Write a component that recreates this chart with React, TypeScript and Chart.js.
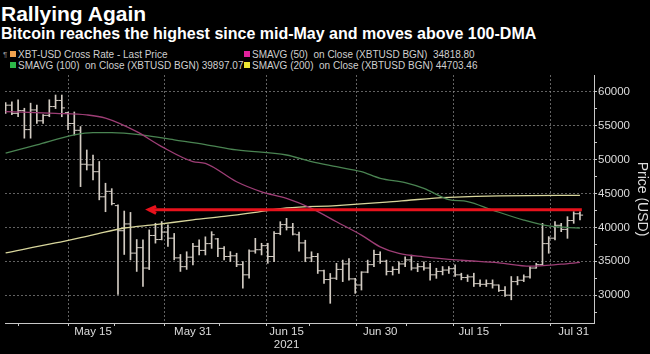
import React, { useEffect, useRef } from 'react';
import { Chart, registerables } from 'chart.js';

Chart.register(...registerables);

// Daily OHLC, 1 May 2021 (day 0) to 1 Aug 2021 (day 92)
const opens = [
  57800, 58000, 56800, 57200, 54400, 57300, 55700, 56500, 57800, 58700,
  56900, 55300, 54300, 49300, 49200, 48200, 44500, 45300, 43200, 39500,
  40500, 36200, 37000, 34000, 38800, 38200, 39300, 38400, 35500, 34200,
  35600, 37200, 36600, 37600, 38300, 36900, 35700, 35800, 34500, 33000,
  36500, 36700, 37300, 35700, 39100, 40400, 40000, 38900, 37700, 35500,
  35700, 33600, 32300, 32500, 33800, 34600, 32400, 31500, 33400, 34500,
  36000, 35000, 33500, 33800, 34600, 35200, 34000, 34200, 34000, 33000,
  33500, 33700, 33900, 33000, 32600, 32700, 31700, 31600, 31700, 31500,
  30700, 30000, 32000, 32200, 32700, 34000, 34500, 37600, 38400, 40300,
  39700, 41000, 42000,
];
const highs = [
  58400, 58500, 58800, 57550, 58300, 58000, 56600, 58800, 59500, 59500,
  57000, 57000, 54850, 51400, 50650, 49700, 46500, 45700, 43300, 42400,
  42200, 38200, 38150, 39630, 40600, 40850, 40360, 39100, 36000, 36400,
  37650, 38140, 38600, 39360, 38380, 37160, 36420, 36180, 34950, 36670,
  38380, 37650, 37650, 39360, 40830, 41320, 40590, 39300, 38100, 36400,
  36150, 33700, 33200, 34700, 35170, 35400, 32480, 33460, 35170, 36640,
  36400, 35170, 34200, 34930, 35660, 35900, 34680, 34930, 34680, 33970,
  34220, 34200, 34460, 33240, 32990, 33240, 32260, 32260, 32260, 31520,
  31280, 32750, 32750, 33000, 34220, 34710, 40590, 38630, 40830, 40590,
  41570, 42300, 42300,
];
const lows = [
  56800, 56600, 56300, 53140, 53140, 55300, 55300, 56300, 57500, 56300,
  54400, 53600, 46000, 48450, 46980, 44050, 42300, 43300, 30100, 36000,
  35200, 33500, 31300, 33770, 37670, 38150, 37200, 35200, 33500, 33800,
  34460, 35930, 35930, 36900, 35690, 35200, 34950, 34200, 31030, 32500,
  36180, 35930, 34700, 34950, 38900, 39600, 38870, 36500, 34930, 34930,
  33200, 31750, 28800, 32300, 32000, 32230, 30270, 30760, 33300, 34200,
  34680, 32970, 32970, 33200, 34200, 33700, 33460, 33700, 32230, 32480,
  32990, 33200, 32750, 32260, 32010, 31280, 31280, 31280, 31040, 30540,
  29800, 29320, 31520, 32000, 32500, 33970, 34460, 36180, 38140, 39360,
  38380, 40590, 41080,
];
const closes = [
  58000, 56800, 57200, 54400, 57300, 55700, 56500, 57800, 58700, 57600,
  55300, 54300, 49300, 49200, 48200, 44500, 45300, 43500, 39500, 40500,
  36200, 37000, 34000, 38800, 38200, 39300, 38400, 35500, 34200, 35600,
  37200, 36600, 37600, 38900, 36900, 35700, 35800, 34500, 33000, 36500,
  36700, 37300, 35700, 39100, 40400, 40000, 39000, 37700, 35500, 35700,
  33600, 32300, 32500, 33800, 34600, 32400, 31500, 33400, 34500, 36000,
  35000, 33500, 33800, 34600, 35200, 34000, 34200, 34000, 33000, 33500,
  33700, 33900, 33000, 32600, 32700, 31700, 31600, 31700, 31500, 30700,
  30000, 32000, 32200, 32700, 34000, 34500, 37600, 38400, 40300, 39700,
  41000, 42000, 41800,
];

// Moving averages, read at sample days
const sma50Days = [0, 8, 13, 16, 21, 25, 30, 32, 37, 41, 45, 49, 53, 57, 60, 63, 67, 73, 79, 84, 89, 92];
const sma50Vals = [57060, 56800, 56570, 56100, 54100, 51900, 49700, 49430, 46720, 45240, 44270, 42800, 40820, 38850, 37130, 36150, 35650, 35150, 34770, 34280, 34570, 34820];
const sma100Days = [0, 5, 11, 14, 17, 22, 27, 32, 37, 45, 49, 53, 57, 60, 64, 67, 71, 74, 78, 83, 87, 92];
const sma100Vals = [50935, 52160, 53630, 53970, 53970, 53600, 52900, 52200, 51400, 50660, 49670, 48930, 48200, 47220, 46600, 45740, 44100, 43800, 42540, 41070, 40200, 39900];
const sma200Days = [0, 8, 14, 19, 24, 30, 35, 40, 45, 53, 61, 66, 71, 79, 92];
const sma200Vals = [36250, 37700, 38900, 39900, 40400, 41100, 41600, 42200, 42850, 43200, 43700, 44100, 44400, 44650, 44700];

// Red arrow (level of the mid-May high)
const arrowDays = [22.9, 92.3];
const arrowLevel = 42600;
const arrowHeadDays = [24.1, 22.9, 24.1];
const arrowHeadVals = [43100, 42600, 42050];

// Axis ticks
const xTickDays = [6, 14, 21, 30, 38.5, 45, 52.5, 60, 68.5, 75, 83.5, 91];
const xTickLabels: Record<string, string | string[]> = {
  '14': 'May 15', '30': 'May 31', '45': ['Jun 15', '2021'], '60': 'Jun 30', '75': 'Jul 15', '91': 'Jul 31',
};
const yTickValues = [27500, 30000, 32500, 35000, 37500, 40000, 42500, 45000, 47500, 50000, 52500, 55000, 57500, 60000];

const BAR = '#d2cbc2';
const GRID = 'rgba(140,140,140,0.7)';
const AXIS = '#c8c8c8';
const TXT = '#dcdcdc';

export default function App() {
  const ref = useRef<HTMLCanvasElement>(null);

  useEffect(() => {
    const days = opens.map((_, i) => i);
    const chart = new Chart(ref.current as HTMLCanvasElement, {
      type: 'line',
      data: {
        datasets: [
          {
            type: 'line',
            data: arrowHeadDays.map((d, i) => ({ x: d, y: arrowHeadVals[i] })),
            borderColor: '#e8121c', borderWidth: 3, pointRadius: 0, borderJoinStyle: 'miter', borderCapStyle: 'butt',
          } as any,
          {
            type: 'line',
            data: arrowDays.map((d) => ({ x: d, y: arrowLevel })),
            borderColor: '#e8121c', borderWidth: 3, pointRadius: 0,
          } as any,
          {
            type: 'line',
            data: sma50Days.map((d, i) => ({ x: d, y: sma50Vals[i] })),
            borderColor: '#9e3e76', borderWidth: 1.3, pointRadius: 0, cubicInterpolationMode: 'monotone',
          } as any,
          {
            type: 'line',
            data: sma100Days.map((d, i) => ({ x: d, y: sma100Vals[i] })),
            borderColor: '#4a8452', borderWidth: 1.3, pointRadius: 0, cubicInterpolationMode: 'monotone',
          } as any,
          {
            type: 'line',
            data: sma200Days.map((d, i) => ({ x: d, y: sma200Vals[i] })),
            borderColor: '#d8d69c', borderWidth: 1.3, pointRadius: 0, cubicInterpolationMode: 'monotone',
          } as any,
          {
            type: 'line',
            data: days.map((d, i) => ({ x: d - 0.25, y: opens[i] })),
            showLine: false, pointStyle: 'line', pointRadius: 1.6, pointBorderWidth: 1,
            pointBorderColor: BAR, pointBackgroundColor: BAR,
          } as any,
          {
            type: 'line',
            data: days.map((d, i) => ({ x: d + 0.25, y: closes[i] })),
            showLine: false, pointStyle: 'line', pointRadius: 1.6, pointBorderWidth: 1,
            pointBorderColor: BAR, pointBackgroundColor: BAR,
          } as any,
          {
            type: 'bar',
            data: days.map((d, i) => ({ x: d, y: [lows[i], highs[i]] })),
            backgroundColor: BAR, borderWidth: 0, barThickness: 1, grouped: false,
          } as any,
        ],
      },
      options: {
        animation: false,
        responsive: false,
        maintainAspectRatio: false,
        layout: { padding: { top: 75, left: 0, right: 0, bottom: 0 } },
        plugins: { legend: { display: false }, tooltip: { enabled: false }, title: { display: false } },
        scales: {
          x: {
            type: 'linear',
            min: -0.1,
            max: 94.25,
            offset: false,
            afterBuildTicks: (s: any) => { s.ticks = xTickDays.map((v) => ({ value: v })); },
            afterFit: (s: any) => { s.height = 31; s.paddingLeft = 0; s.paddingRight = 0; },
            ticks: {
              autoSkip: false, maxRotation: 0, minRotation: 0, padding: 0, color: TXT,
              font: { family: 'Liberation Sans', size: 11.5, lineHeight: 1.1 },
              callback: (v: any) => xTickLabels[String(v)] ?? '',
            },
            grid: {
              color: (c: any) => (xTickLabels[String(c.tick?.value)] ? GRID : 'transparent'),
              tickColor: AXIS, tickLength: 3, lineWidth: 1,
            },
            border: { color: AXIS, width: 1, dash: [2, 2] },
          },
          y: {
            type: 'linear',
            position: 'right',
            min: 25900,
            max: 62450,
            afterBuildTicks: (s: any) => { s.ticks = yTickValues.map((v) => ({ value: v })); },
            afterFit: (s: any) => { s.width = 56; s.paddingTop = 0; s.paddingBottom = 0; },
            ticks: {
              padding: 1, color: TXT,
              font: { family: 'Liberation Sans', size: 11.5 },
              callback: (v: any) => (Number(v) % 5000 === 0 ? String(v) : ''),
            },
            grid: {
              color: (c: any) => (c.tick && c.tick.value % 5000 === 0 ? GRID : 'transparent'),
              tickColor: AXIS, tickLength: 3, lineWidth: 1,
            },
            border: { color: AXIS, width: 1, dash: [2, 2] },
            title: {
              display: true, text: 'Price (USD)', color: TXT, padding: 0,
              font: { family: 'Liberation Sans', size: 14 },
            },
          },
        },
      } as any,
    });
    return () => chart.destroy();
  }, []);

  const legendText: React.CSSProperties = {
    position: 'absolute', font: '10px "Liberation Sans"', color: '#cfcfcf', whiteSpace: 'pre', lineHeight: '10px',
  };
  const sq = (left: number, top: number, color: string): React.CSSProperties => ({
    position: 'absolute', left, top, width: 6, height: 6, background: color,
  });

  return (
    <div style={{ position: 'absolute', left: 0, top: 0, width: 650, height: 354, background: '#000', overflow: 'hidden' }}>
      <div style={{ position: 'absolute', left: 1, top: 3, font: 'bold 21px "Liberation Sans"', color: '#fff', lineHeight: '21px', whiteSpace: 'pre' }}>
        Rallying Again
      </div>
      <div style={{ position: 'absolute', left: 1, top: 26, font: 'bold 16px "Liberation Sans"', color: '#fff', lineHeight: '16px', whiteSpace: 'pre' }}>
        Bitcoin reaches the highest since mid-May and moves above 100-DMA
      </div>
      <div style={{ ...legendText, left: 3, top: 50, fontSize: 8, color: '#8a8a8a' }}>¶</div>
      <div style={sq(10, 51, '#f0a24e')} />
      <div style={{ ...legendText, left: 18, top: 49.5 }}>XBT-USD Cross Rate - Last Price</div>
      <div style={sq(10, 62, '#2db84a')} />
      <div style={{ ...legendText, left: 18, top: 60.5 }}>SMAVG (100)  on Close (XBTUSD BGN) 39897.07</div>
      <div style={sq(244, 51, '#e0219c')} />
      <div style={{ ...legendText, left: 252, top: 49.5 }}>SMAVG (50)  on Close (XBTUSD BGN)  34818.80</div>
      <div style={sq(244, 62, '#ece632')} />
      <div style={{ ...legendText, left: 252, top: 60.5 }}>SMAVG (200)  on Close (XBTUSD BGN) 44703.46</div>
      <canvas ref={ref} width={650} height={354} style={{ position: 'absolute', left: 0, top: 0, width: 650, height: 354 }} />
    </div>
  );
}
